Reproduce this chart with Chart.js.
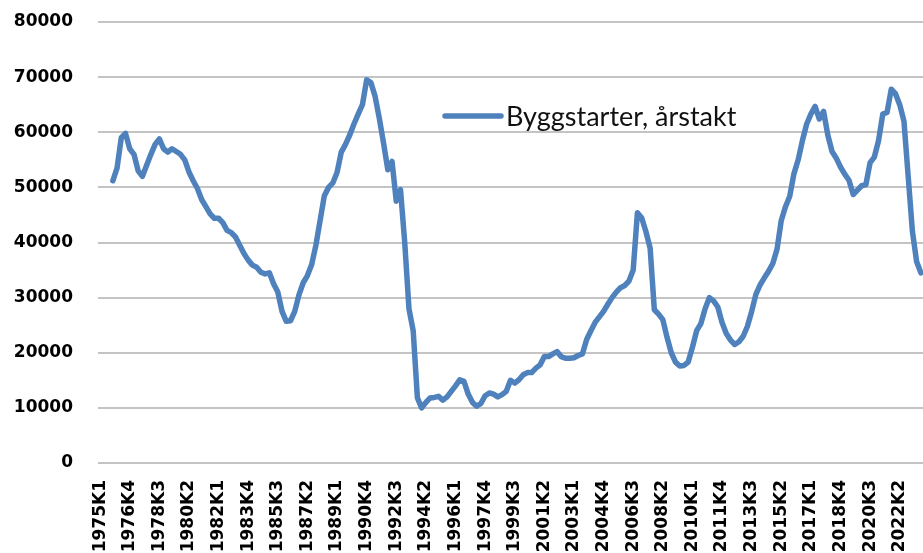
<!DOCTYPE html>
<html lang="no">
<head>
    <meta charset="UTF-8">
    <title>Byggstarter, årstakt</title>
    <script src="https://cdn.jsdelivr.net/npm/chart.js"></script>
    <style>
        body {
            margin: 0;
            background-color: #ffffff;
        }
        #chartContainer {
            width: 923px;
            height: 553px;
            position: relative;
        }
    </style>
</head>
<body>
    <div id="chartContainer">
        <canvas id="myChart"></canvas>
    </div>

    <script>
        // Quarters 1975K1 .. 2023K3
        var quarters = [];
        for (var y = 1975; y <= 2023; y++) {
            for (var q = 1; q <= 4; q++) {
                if (quarters.length < 195) quarters.push(y + 'K' + q);
            }
        }

        // Labels shown on the x axis (every 7th quarter)
        var xTickLabels = [
            '1975K1', '1976K4', '1978K3', '1980K2', '1982K1', '1983K4', '1985K3',
            '1987K2', '1989K1', '1990K4', '1992K3', '1994K2', '1996K1', '1997K4',
            '1999K3', '2001K2', '2003K1', '2004K4', '2006K3', '2008K2', '2010K1',
            '2011K4', '2013K3', '2015K2', '2017K1', '2018K4', '2020K3', '2022K2'
        ];

        var yTicks = [0, 10000, 20000, 30000, 40000, 50000, 60000, 70000, 80000];

        var seriesLabel = 'Byggstarter, årstakt';

        // Building starts, annual rate (one row per year, K1..K4)
        var byggstarter = [
            null, null, null, 51200,        // 1975
            53500, 59000, 59800, 57000,     // 1976
            56000, 53000, 52000, 54000,     // 1977
            56000, 57800, 58800, 57000,     // 1978
            56400, 57000, 56500, 56000,     // 1979
            55000, 52800, 51200, 49800,     // 1980
            47800, 46500, 45200, 44400,     // 1981
            44400, 43600, 42200, 41800,     // 1982
            41000, 39500, 38000, 36800,     // 1983
            35900, 35500, 34600, 34300,     // 1984
            34500, 32500, 31000, 27500,     // 1985
            25700, 25800, 27500, 30500,     // 1986
            32700, 34000, 36000, 39500,     // 1987
            44000, 48500, 50000, 50800,     // 1988
            52700, 56400, 57800, 59500,     // 1989
            61500, 63300, 65000, 69500,     // 1990
            69000, 66500, 62500, 58000,     // 1991
            53200, 54700, 47500, 49600,     // 1992
            40000, 28000, 24000, 11800,     // 1993
            10000, 11000, 11800, 11900,     // 1994
            12100, 11400, 12000, 13000,     // 1995
            14000, 15100, 14800, 12500,     // 1996
            11000, 10300, 10800, 12200,     // 1997
            12700, 12500, 12000, 12400,     // 1998
            13000, 15000, 14500, 15100,     // 1999
            16000, 16400, 16400, 17200,     // 2000
            17800, 19300, 19300, 19800,     // 2001
            20200, 19300, 19000, 19000,     // 2002
            19100, 19500, 19800, 22400,     // 2003
            24000, 25500, 26500, 27500,     // 2004
            28800, 30000, 31000, 31800,     // 2005
            32200, 33000, 35000, 45400,     // 2006
            44500, 42000, 39000, 27800,     // 2007
            27000, 26000, 22800, 20000,     // 2008
            18300, 17600, 17700, 18300,     // 2009
            21000, 24000, 25300, 28000,     // 2010
            30000, 29400, 28300, 25500,     // 2011
            23500, 22300, 21500, 22000,     // 2012
            23000, 24800, 27500, 30600,     // 2013
            32300, 33600, 34800, 36200,     // 2014
            38800, 44000, 46500, 48400,     // 2015
            52500, 55000, 58500, 61500,     // 2016
            63300, 64700, 62400, 63800,     // 2017
            59500, 56500, 55300, 53700,     // 2018
            52400, 51300, 48700, 49500,     // 2019
            50300, 50500, 54500, 55500,     // 2020
            58500, 63300, 63600, 67800,     // 2021
            67000, 65000, 62000, 52000,     // 2022
            42000, 36500, 34500             // 2023
        ];

        var lineColor = '#4f81bd';

        // Legend drawn inside the plot area, like the original
        var innerLegend = {
            id: 'innerLegend',
            afterDraw: function (chart) {
                var ctx = chart.ctx;
                var area = chart.chartArea;
                var x = area.left + 347;
                var y = area.top + 94;
                ctx.save();
                ctx.strokeStyle = lineColor;
                ctx.lineWidth = 5.5;
                ctx.lineCap = 'round';
                ctx.beginPath();
                ctx.moveTo(x, y);
                ctx.lineTo(x + 56, y);
                ctx.stroke();
                ctx.fillStyle = '#111111';
                ctx.font = '27px Lato, "Open Sans", sans-serif';
                ctx.textBaseline = 'middle';
                ctx.fillText(chart.data.datasets[0].label, x + 61, y + 1);
                ctx.restore();
            }
        };

        var ctx = document.getElementById('myChart').getContext('2d');
        var myChart = new Chart(ctx, {
            type: 'line',
            data: {
                labels: quarters,
                datasets: [{
                    label: seriesLabel,
                    data: byggstarter,
                    borderColor: lineColor,
                    borderWidth: 5.5,
                    borderJoinStyle: 'round',
                    borderCapStyle: 'round',
                    pointRadius: 0,
                    tension: 0,
                    fill: false
                }]
            },
            options: {
                responsive: true,
                maintainAspectRatio: false,
                animation: false,
                layout: { padding: { top: 22, right: 0, bottom: 0, left: 0 } },
                plugins: {
                    legend: { display: false },
                    tooltip: { enabled: false }
                },
                scales: {
                    x: {
                        offset: true,
                        grid: { display: false, drawTicks: false },
                        border: { display: false },
                        ticks: {
                            autoSkip: false,
                            minRotation: 90,
                            maxRotation: 90,
                            padding: 17,
                            color: '#000000',
                            font: { family: 'DejaVu Sans', size: 17, weight: 'bold' },
                            callback: function (value, index) {
                                var label = this.getLabelForValue(value);
                                return xTickLabels.indexOf(label) >= 0 ? label : '';
                            }
                        },
                        afterFit: function (scale) {
                            scale.height = 90;
                            scale.paddingLeft = 0;
                            scale.paddingRight = 0;
                        }
                    },
                    y: {
                        min: yTicks[0],
                        max: yTicks[yTicks.length - 1],
                        grid: { color: '#c4c4c4', lineWidth: 2, drawTicks: false },
                        border: { display: false },
                        afterBuildTicks: function (scale) {
                            scale.ticks = yTicks.map(function (v) { return { value: v }; });
                        },
                        ticks: {
                            padding: 25,
                            color: '#000000',
                            font: { family: 'DejaVu Sans', size: 17, weight: 'bold' },
                            callback: function (value) { return String(value); }
                        },
                        afterFit: function (scale) {
                            scale.width = 98;
                            scale.paddingTop = 0;
                            scale.paddingBottom = 0;
                        }
                    }
                }
            },
            plugins: [innerLegend]
        });
    </script>
</body>
</html>
